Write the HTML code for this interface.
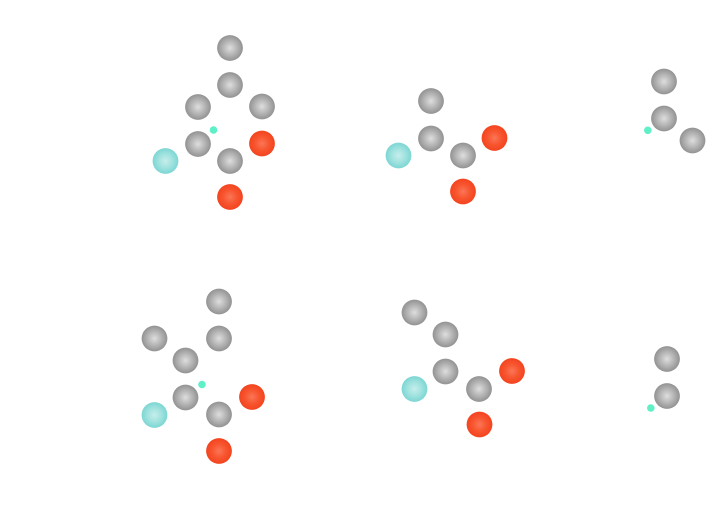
<!DOCTYPE html>
<html>
<head>
<meta charset="utf-8">
<style>
html,body{margin:0;padding:0;background:#fff;width:722px;height:506px;overflow:hidden}
svg{display:block}
</style>
</head>
<body>
<svg width="722" height="506" viewBox="0 0 722 506" xmlns="http://www.w3.org/2000/svg">
<defs>
<radialGradient id="g"><stop offset="0" stop-color="#dedede"/><stop offset="0.5" stop-color="#b8b8b8"/><stop offset="1" stop-color="#929292"/></radialGradient>
<radialGradient id="r"><stop offset="0" stop-color="#fb7656"/><stop offset="0.55" stop-color="#f7552f"/><stop offset="1" stop-color="#f3441f"/></radialGradient>
<radialGradient id="c"><stop offset="0" stop-color="#c6eeeb"/><stop offset="0.55" stop-color="#a0e2df"/><stop offset="1" stop-color="#7cd6d3"/></radialGradient>
</defs>
<g fill="url(#g)">
<circle cx="230" cy="48" r="12.9"/><circle cx="230" cy="85" r="12.9"/><circle cx="198" cy="107" r="12.9"/><circle cx="262" cy="106.500" r="12.9"/><circle cx="198" cy="144" r="12.9"/><circle cx="230" cy="161" r="12.9"/>
<circle cx="431" cy="101" r="12.9"/><circle cx="431" cy="138.500" r="12.9"/><circle cx="463" cy="155.500" r="12.9"/>
<circle cx="664" cy="81.500" r="12.9"/><circle cx="664" cy="118.500" r="12.9"/><circle cx="692.500" cy="140.500" r="12.9"/>
<circle cx="219" cy="301.500" r="12.9"/><circle cx="154.500" cy="338.500" r="12.9"/><circle cx="219" cy="338.500" r="12.9"/><circle cx="185.500" cy="360.500" r="12.9"/><circle cx="185.500" cy="397.500" r="12.9"/><circle cx="219" cy="414.500" r="12.9"/>
<circle cx="414.500" cy="312.500" r="12.9"/><circle cx="445.500" cy="334.500" r="12.9"/><circle cx="445.500" cy="371.500" r="12.9"/><circle cx="479" cy="389" r="12.9"/>
<circle cx="667" cy="359" r="12.9"/><circle cx="667" cy="396" r="12.9"/>
</g>
<g fill="url(#r)">
<circle cx="262" cy="143.500" r="12.900"/><circle cx="230" cy="197" r="12.900"/>
<circle cx="494.500" cy="138" r="12.900"/><circle cx="463" cy="191.500" r="12.900"/>
<circle cx="252" cy="397" r="12.900"/><circle cx="219" cy="451" r="12.900"/>
<circle cx="512" cy="371" r="12.900"/><circle cx="479.500" cy="424.500" r="12.900"/>
</g>
<g fill="url(#c)">
<circle cx="165.500" cy="161" r="12.900"/><circle cx="398.500" cy="155.500" r="12.900"/><circle cx="154.500" cy="415" r="12.900"/><circle cx="414.500" cy="389" r="12.900"/>
</g>
<g fill="#5ff0c8">
<circle cx="213.500" cy="130" r="3.800"/><circle cx="647.800" cy="130.300" r="3.800"/><circle cx="202" cy="384.500" r="3.800"/><circle cx="650.800" cy="408" r="3.800"/>
</g>
</svg>
</body>
</html>
